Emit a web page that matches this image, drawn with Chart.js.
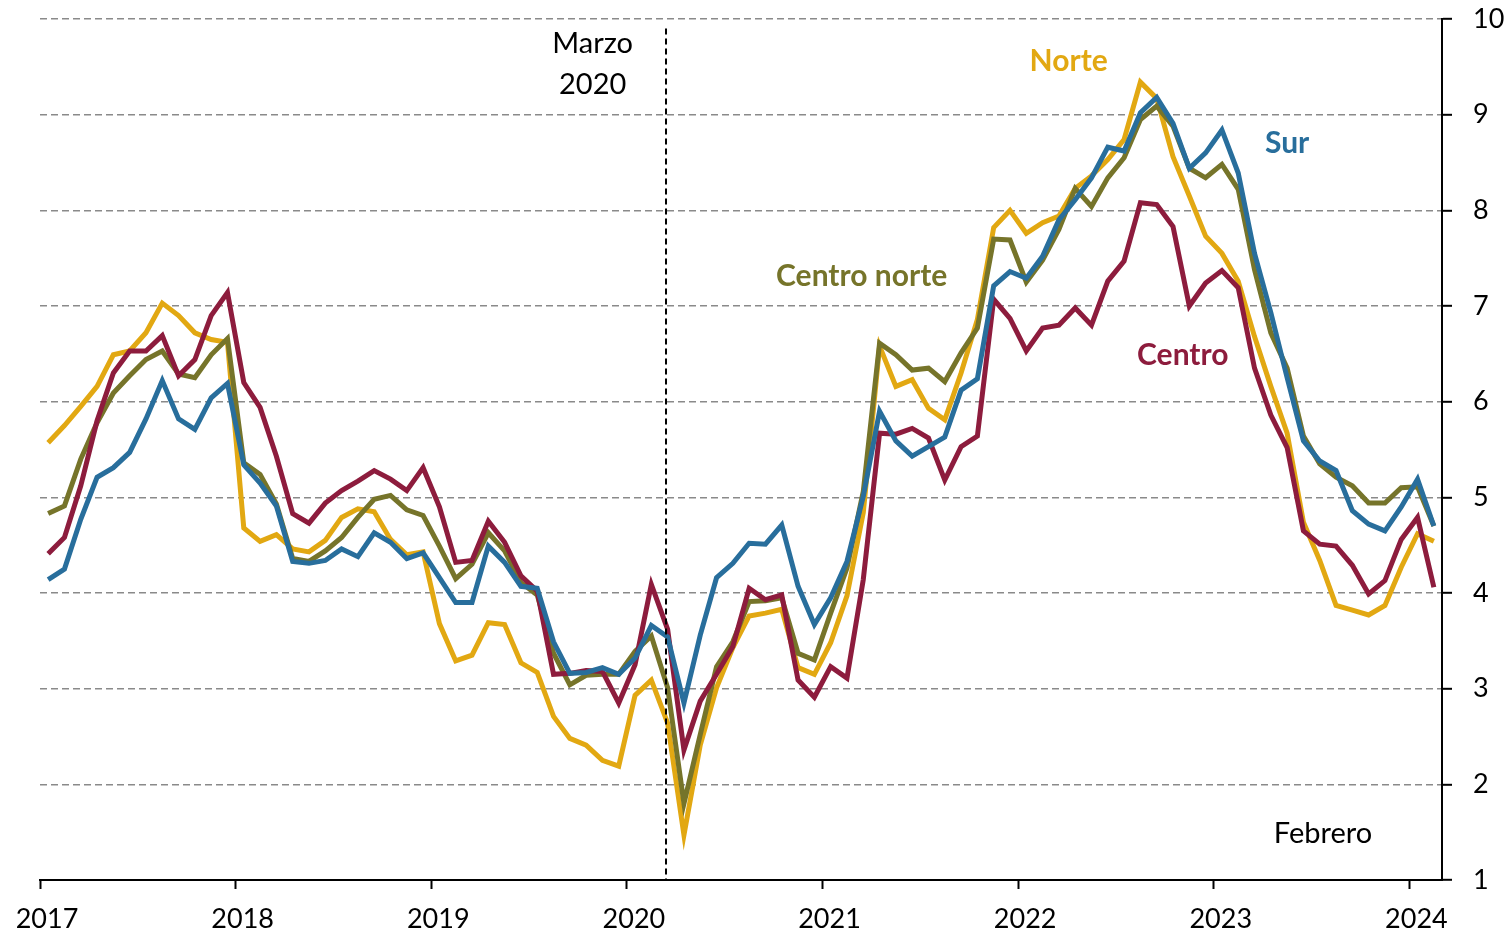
<!DOCTYPE html>
<html><head><meta charset="utf-8">
<script src="https://cdn.jsdelivr.net/npm/chart.js@4.4.1/dist/chart.umd.min.js"></script>
<style>html,body{margin:0;padding:0;background:#fff;}#wrap{width:1511px;height:934px;position:relative;}</style>
</head><body><div id="wrap"><canvas id="c" width="1511" height="934"></canvas></div>
<script>
const startYear = 2017;
const yearTicks = [0, 12, 24, 36, 48, 60, 72, 84];
const yTicks = [1, 2, 3, 4, 5, 6, 7, 8, 9, 10];
const seriesNames = ["Sur", "Centro", "Centro norte", "Norte"];

const norte = [5.57,5.75,5.95,6.16,6.49,6.53,6.72,7.03,6.90,6.72,6.65,6.62,
 4.68,4.54,4.61,4.46,4.43,4.55,4.79,4.88,4.85,4.56,4.40,4.43,
 3.68,3.29,3.35,3.69,3.67,3.27,3.17,2.71,2.48,2.41,2.25,2.19,
 2.93,3.09,2.64,1.47,2.41,3.01,3.43,3.76,3.79,3.83,3.22,3.15,
 3.48,3.97,4.84,6.58,6.16,6.23,5.93,5.81,6.30,6.86,7.82,8.00,
 7.76,7.87,7.94,8.23,8.36,8.53,8.74,9.34,9.17,8.56,8.15,7.73,
 7.55,7.26,6.68,6.16,5.67,4.74,4.34,3.87,3.82,3.77,3.87,4.27,
 4.62,4.54];
const centroNorte = [4.83,4.91,5.40,5.78,6.09,6.27,6.44,6.53,6.29,6.25,6.49,6.66,
 5.36,5.24,4.93,4.36,4.33,4.44,4.58,4.79,4.98,5.02,4.87,4.81,
 4.49,4.15,4.30,4.63,4.44,4.11,3.98,3.37,3.04,3.14,3.15,3.15,
 3.39,3.55,3.01,1.80,2.52,3.23,3.49,3.91,3.92,3.95,3.37,3.30,
 3.79,4.26,5.06,6.61,6.49,6.33,6.35,6.21,6.51,6.77,7.70,7.69,
 7.25,7.48,7.80,8.23,8.04,8.34,8.55,8.95,9.09,8.88,8.44,8.34,
 8.48,8.22,7.38,6.72,6.35,5.64,5.35,5.21,5.12,4.94,4.94,5.10,
 5.11,4.70];
const centro = [4.41,4.58,5.12,5.80,6.30,6.53,6.53,6.69,6.27,6.44,6.90,7.14,
 6.20,5.94,5.43,4.83,4.73,4.94,5.07,5.17,5.28,5.19,5.07,5.31,
 4.90,4.32,4.34,4.75,4.53,4.18,4.02,3.15,3.16,3.19,3.18,2.85,
 3.25,4.09,3.62,2.36,2.87,3.15,3.44,4.05,3.93,3.98,3.09,2.91,
 3.23,3.11,4.14,5.67,5.66,5.72,5.62,5.18,5.53,5.64,7.07,6.87,
 6.53,6.77,6.80,6.98,6.80,7.26,7.47,8.08,8.06,7.83,7.00,7.24,
 7.37,7.19,6.35,5.86,5.52,4.65,4.51,4.49,4.29,3.99,4.13,4.56,
 4.79,4.06];
const sur = [4.14,4.25,4.77,5.21,5.31,5.47,5.82,6.22,5.82,5.71,6.04,6.19,
 5.34,5.15,4.91,4.33,4.31,4.34,4.46,4.38,4.63,4.53,4.36,4.42,
 4.16,3.90,3.90,4.49,4.32,4.07,4.05,3.49,3.16,3.17,3.22,3.15,
 3.32,3.66,3.54,2.85,3.56,4.16,4.31,4.52,4.51,4.71,4.07,3.67,
 3.95,4.33,5.01,5.90,5.59,5.43,5.53,5.63,6.12,6.24,7.21,7.36,
 7.29,7.52,7.90,8.11,8.34,8.66,8.62,9.02,9.18,8.91,8.44,8.60,
 8.84,8.39,7.55,6.93,6.25,5.59,5.38,5.28,4.86,4.72,4.65,4.90,
 5.19,4.70];

const colors = {"Sur":"#286E9C","Centro":"#8D1C3D","Centro norte":"#76742A","Norte":"#E2A812"};
const values = {"Sur":sur,"Centro":centro,"Centro norte":centroNorte,"Norte":norte};

const FONT = "Lato, 'Open Sans', sans-serif";

// annotations in data coordinates (month index, value)
const seriesLabels = [
  {text:"Norte", x:63.1, y:9.56, color:colors["Norte"]},
  {text:"Sur", x:76.5, y:8.70, color:colors["Sur"]},
  {text:"Centro norte", x:50.4, y:7.31, color:colors["Centro norte"]},
  {text:"Centro", x:70.1, y:6.48, color:colors["Centro"]}
];
const marchLine = 38.4;

const annot = {
  id:"annot",
  afterDatasetsDraw(chart){
    const {ctx, scales:{x,y}, chartArea} = chart;
    ctx.save();
    ctx.strokeStyle="#000"; ctx.lineWidth=2; ctx.setLineDash([6,4]);
    const px = x.getPixelForValue(marchLine);
    ctx.beginPath(); ctx.moveTo(px, y.getPixelForValue(9.9)); ctx.lineTo(px, chartArea.bottom); ctx.stroke();
    ctx.setLineDash([]);
    ctx.textAlign="center"; ctx.textBaseline="middle";
    ctx.font = "29px " + FONT; ctx.fillStyle="#000";
    ctx.fillText("Marzo", x.getPixelForValue(33.9), y.getPixelForValue(9.74));
    ctx.fillText("2020", x.getPixelForValue(33.9), y.getPixelForValue(9.31));
    ctx.fillText("Febrero", x.getPixelForValue(78.7), y.getPixelForValue(1.48));
    ctx.font = "bold 30px " + FONT;
    seriesLabels.forEach(l=>{
      ctx.fillStyle=l.color;
      ctx.fillText(l.text, x.getPixelForValue(l.x), y.getPixelForValue(l.y));
    });
    ctx.restore();
  }
};

const datasets = seriesNames.map(n=>({
  label:n,
  data: values[n].map((v,i)=>({x:i+0.5, y:v})),
  borderColor: colors[n],
  backgroundColor: colors[n],
  borderWidth: 5,
  pointRadius: 0,
  tension: 0,
  fill:false,
  borderJoinStyle:"miter"
}));

function zeroPad(s){ s.paddingTop = 0; s.paddingBottom = 0; s.paddingLeft = 0; s.paddingRight = 0; }

new Chart(document.getElementById("c"), {
  type:"line",
  data:{datasets},
  plugins:[annot],
  options:{
    responsive:false,
    animation:false,
    devicePixelRatio:1,
    layout:{padding:{left:40, top:19, right:0, bottom:0}},
    plugins:{legend:{display:false}, tooltip:{enabled:false}},
    scales:{
      x:{
        type:"linear", min:0, max:86,
        afterBuildTicks(s){ s.ticks = yearTicks.map(v=>({value:v})); },
        afterFit(s){ s.height = 54; zeroPad(s); },
        ticks:{
          autoSkip:false, maxRotation:0, minRotation:0,
          color:"#000", font:{family:FONT, size:27, lineHeight:1.0}, padding:17, labelOffset:7,
          callback:(v)=> String(startYear + v/12)
        },
        grid:{display:true, drawOnChartArea:false, drawTicks:true, tickLength:9, tickColor:"#000", tickWidth:2},
        border:{display:true, color:"#000", width:2}
      },
      y:{
        position:"right", min:1, max:10,
        afterBuildTicks(s){ s.ticks = yTicks.map(v=>({value:v})); },
        afterFit(s){ s.width = 69; zeroPad(s); },
        ticks:{color:"#000", font:{family:FONT, size:27, lineHeight:1.0}, padding:21},
        grid:{display:true, color:"#8a8a8a", lineWidth:1.6, drawTicks:true, tickLength:10, tickColor:"#000", tickWidth:2, tickBorderDash:[]},
        border:{display:true, color:"#000", width:2, dash:[7,4]}
      }
    }
  }
});
</script></body></html>
